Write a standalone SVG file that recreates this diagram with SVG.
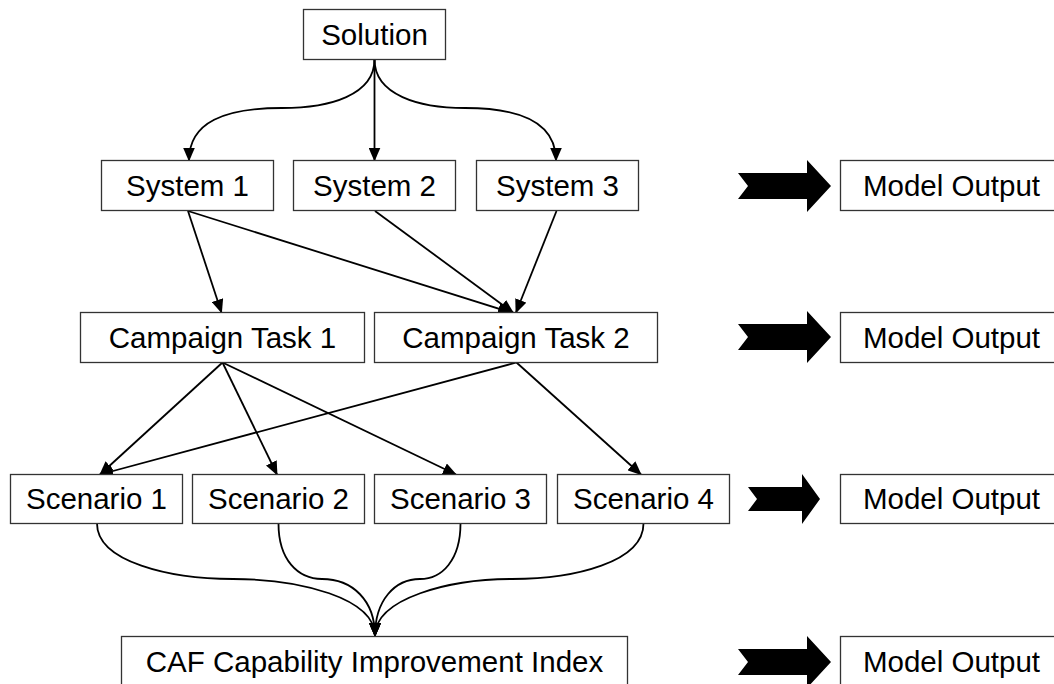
<svg xmlns="http://www.w3.org/2000/svg" width="1054" height="684" viewBox="0 0 1054 684">
<defs>
<marker id="ah" markerUnits="userSpaceOnUse" markerWidth="14" markerHeight="12" refX="13" refY="6" orient="auto" viewBox="0 0 14 12"><path d="M0,0 L14,6 L0,12 Z" fill="#000"/></marker>
</defs>
<style>
.box{fill:#fff;stroke:#333;stroke-width:1.3}
.lbl{font-family:"Liberation Sans",Arial,sans-serif;font-size:29.5px;fill:#000;text-anchor:middle}
.c{fill:none;stroke:#000;stroke-width:1.8;marker-end:url(#ah)}
.blk{fill:#000}
</style>
<rect width="1054" height="684" fill="#fff"/>
<g id="connectors">
<path class="c" d="M374.5,59.5 C374.5,95 330,108 282,108 C225,108 189,122 189,160.5"/>
<path class="c" d="M374.5,59.5 L374.5,160.5"/>
<path class="c" d="M374.5,59.5 C374.5,95 419,108 465,108 C520,108 556,122 556,160.5"/>
<path class="c" d="M188,211 L221.5,312.5"/>
<path class="c" d="M188,211 L511,312.5"/>
<path class="c" d="M375,211 L513,312.5"/>
<path class="c" d="M556.5,211 L516,312.5"/>
<path class="c" d="M222.5,362.5 L100,474.5"/>
<path class="c" d="M222.5,362.5 L277,474.5"/>
<path class="c" d="M222.5,362.5 L456,474.5"/>
<path class="c" d="M516.5,362.5 L100,474.5"/>
<path class="c" d="M516.5,362.5 L641,474.5"/>
<path class="c" d="M97,523.5 C97,562 170,579 233,579 C300,579 375,598 375,636"/>
<path class="c" d="M278.5,523.5 C278.5,560 298,579 322,579 C352,579 375,600 375,636"/>
<path class="c" d="M460.5,523.5 C460.5,560 442,579 420,579 C395,579 375,600 375,636"/>
<path class="c" d="M643.5,523.5 C643.5,562 575,579 512,579 C450,579 375,598 375,636"/>
</g>
<g id="solution"><rect class="box" x="303.5" y="9.5" width="142" height="50"/><text class="lbl" x="374.5" y="45">Solution</text></g>
<g id="system1"><rect class="box" x="101.5" y="160.5" width="172" height="50"/><text class="lbl" x="187.5" y="196">System 1</text></g>
<g id="system2"><rect class="box" x="293.5" y="160.5" width="162" height="50"/><text class="lbl" x="374.5" y="196">System 2</text></g>
<g id="system3"><rect class="box" x="476.5" y="160.5" width="162" height="50"/><text class="lbl" x="557.5" y="196">System 3</text></g>
<g id="task1"><rect class="box" x="80.5" y="312.5" width="284" height="50"/><text class="lbl" x="222.5" y="348">Campaign Task 1</text></g>
<g id="task2"><rect class="box" x="374.5" y="312.5" width="283" height="50"/><text class="lbl" x="516" y="348">Campaign Task 2</text></g>
<g id="scenario1"><rect class="box" x="10.5" y="474.5" width="172" height="49"/><text class="lbl" x="96.5" y="509">Scenario 1</text></g>
<g id="scenario2"><rect class="box" x="192.5" y="474.5" width="172" height="49"/><text class="lbl" x="278.5" y="509">Scenario 2</text></g>
<g id="scenario3"><rect class="box" x="374.5" y="474.5" width="172" height="49"/><text class="lbl" x="460.5" y="509">Scenario 3</text></g>
<g id="scenario4"><rect class="box" x="557.5" y="474.5" width="172" height="49"/><text class="lbl" x="643.5" y="509">Scenario 4</text></g>
<g id="caf"><rect class="box" x="121.5" y="636.5" width="506" height="60"/><text class="lbl" x="374.5" y="672">CAF Capability Improvement Index</text></g>
<g id="arrow1"><polygon class="blk" points="738,173 807,173 807,160 831,186 807,212 807,199 738,199 748,186"/></g>
<g id="arrow2"><polygon class="blk" points="738,324 807,324 807,311 831,337 807,363 807,350 738,350 748,337"/></g>
<g id="arrow3"><polygon class="blk" points="748,487 802,487 802,474 820,499 802,524 802,511 748,511 757,499"/></g>
<g id="arrow4"><polygon class="blk" points="738,649 807,649 807,636 831,662 807,688 807,675 738,675 748,662"/></g>
<g id="output1"><rect class="box" x="840.5" y="160.5" width="222" height="50"/><text class="lbl" x="951.5" y="196">Model Output</text></g>
<g id="output2"><rect class="box" x="840.5" y="312.5" width="222" height="50"/><text class="lbl" x="951.5" y="348">Model Output</text></g>
<g id="output3"><rect class="box" x="840.5" y="474.5" width="222" height="49"/><text class="lbl" x="951.5" y="509">Model Output</text></g>
<g id="output4"><rect class="box" x="840.5" y="636.5" width="222" height="60"/><text class="lbl" x="951.5" y="672">Model Output</text></g>
</svg>
